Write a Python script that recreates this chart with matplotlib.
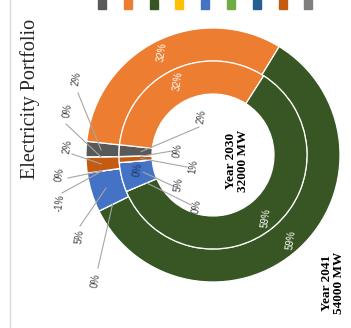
import numpy as np
import matplotlib.pyplot as plt

# categories in legend order
colors = ['#595959', '#ED7D31', '#375623', '#FFC000', '#4472C4',
          '#70AD47', '#255E91', '#C55A11', '#7F7F7F']
share_2041 = [2, 32, 59, 0, 5, -1, 0, 2, 0]   # outer ring, %
share_2030 = [2, 32, 59, 0, 5, 0, 0, 1, 0]    # inner ring, %

W, H = 351, 328
fig = plt.figure(figsize=(W / 100, H / 100), dpi=100)
ax = fig.add_axes([0, 0, 1, 1])

cx, cy = 213, H - 155
r_out, r_mid, r_in = 127, 94, 61


def ring(vals, radius, width):
    sizes = [max(v, 0) for v in vals]
    wedges, _ = ax.pie(sizes, radius=radius, center=(cx, cy), startangle=181,
                       counterclock=False, colors=colors,
                       wedgeprops=dict(width=width, edgecolor='white', linewidth=0.9))
    return wedges


w_out = ring(share_2041, r_out, r_out - r_mid)
w_in = ring(share_2030, r_mid, r_mid - r_in)

ax.set_xlim(0, W)
ax.set_ylim(0, H)
ax.set_aspect('auto')
ax.axis('off')


def pt(w, r):
    a = np.deg2rad((w.theta1 + w.theta2) / 2)
    return cx + r * np.cos(a), cy + r * np.sin(a)


lab = dict(family='Liberation Sans', fontsize=7, rotation=82,
           ha='center', va='center')

# big slices labelled inside the ring
for wedges, vals, r in [(w_out, share_2041, 115), (w_in, share_2030, 82)]:
    for i in (1, 2):
        x, y = pt(wedges[i], r)
        ax.text(x, y, f'{vals[i]}%', color='white', **lab)

# small slices with leader lines (label position in pixels from top-left)
outer_pos = {0: (77, 79), 8: (68, 111), 7: (68, 147), 6: (60, 175),
             5: (60, 203), 4: (80, 237), 3: (96, 281)}
outer_end = {0: (78, 93), 8: (66, 124), 7: (72, 154), 6: (68, 178),
             5: (62, 193), 4: (80, 226), 3: (98, 268)}
for i, (px, py) in outer_pos.items():
    ex, ey = outer_end[i]
    x, y = pt(w_out[i], 112)
    ax.plot([ex, x], [H - ey, y], color='#A6A6A6', lw=0.8)
    ax.text(px, H - py, f'{share_2041[i]}%', color='#404040', **lab)

inner_pos = {0: (202, 117), 8: (178, 151), 7: (193, 167), 4: (179, 185),
             3: (197, 207)}
inner_end = {0: (199, 127), 8: (172, 151), 7: (187, 167), 4: (173, 186),
             3: (191, 205)}
for i, (px, py) in inner_pos.items():
    ex, ey = inner_end[i]
    x, y = pt(w_in[i], 72)
    ax.plot([ex, x], [H - ey, y], color='#A6A6A6', lw=0.8)
    ax.text(px, H - py, f'{share_2030[i]}%', color='#404040', **lab)

# zero slice labelled inside the inner ring
x, y = pt(w_in[6], 76)
ax.text(x, y - 8, f'{share_2030[6]}%', color='#1F3864', **lab)

serif = 'Liberation Serif'
ax.text(30, H - 99, 'Electricity Portfolio', family=serif, fontsize=14.5,
        rotation=90, ha='center', va='center', color='#262626')
ax.text(237, H - 161, 'Year 2030\n32000 MW', family=serif, fontsize=9.5,
        fontweight='bold', rotation=90, ha='center', va='center',
        linespacing=0.9, multialignment='center')
ax.text(333, H - 283, 'Year 2041\n54000 MW', family=serif, fontsize=9.5,
        fontweight='bold', rotation=90, ha='center', va='center',
        linespacing=0.9, multialignment='center')

# legend swatches (text runs off the top edge)
for k, c in enumerate(colors):
    ax.add_patch(plt.Rectangle((98 + k * 25.8, H - 9), 8, 9, color=c, clip_on=False))

ax.plot([10, 10], [0, H], color='#D9D9D9', lw=1)

fig.savefig('out.png', dpi=100)
